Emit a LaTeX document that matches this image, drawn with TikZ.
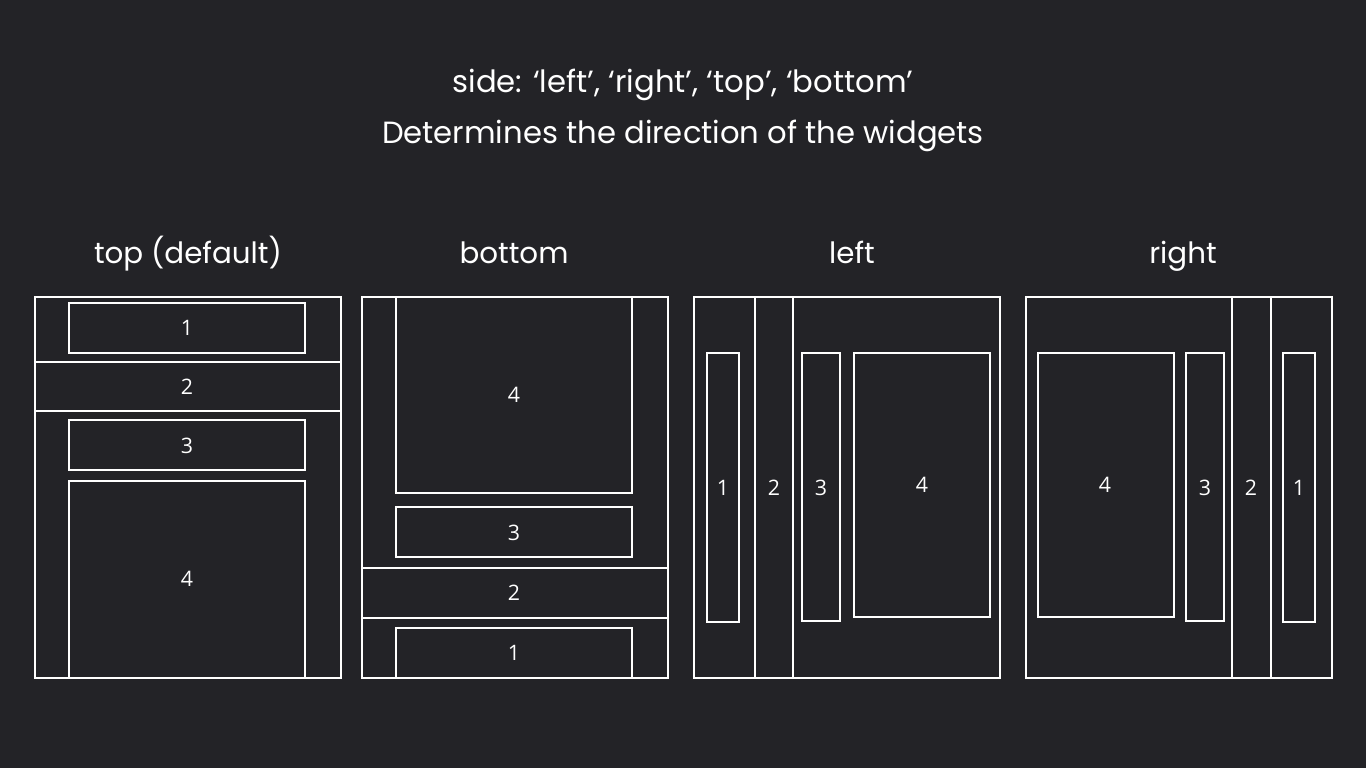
\documentclass[tikz,border=0pt]{standalone}
\usepackage{fontspec}
\setmainfont{Poppins}
\newfontfamily\digitfont{Open Sans}
\definecolor{bg}{HTML}{232327}
\begin{document}
\begin{tikzpicture}[x=0.75pt,y=-0.75pt,
  wbox/.style={draw=white,line width=1.1pt},
  num/.style={text=white,font=\digitfont\fontsize{16}{16}\selectfont,inner sep=0pt},
  ttl/.style={text=white,font=\fontsize{23}{25}\selectfont,inner sep=0pt,anchor=base},
  hdr/.style={text=white,font=\fontsize{22}{24}\selectfont,inner sep=0pt,anchor=base}]
\fill[bg] (0,0) rectangle (1366,768);
\useasboundingbox (0,0) rectangle (1366,768);
\node[ttl] (t1) at (683,92) {side: ‘left’, ‘right’, ‘top’, ‘bottom’};
\node[ttl] (t2) at (683,143) {Determines the direction of the widgets};
\node[hdr] (h1) at (188,263) {top (default)};
\node[hdr] (h2) at (514,263) {bottom};
\node[hdr] (h3) at (852,263) {left};
\node[hdr] (h4) at (1183,263) {right};
% panel top
\draw[wbox] (35,297) rectangle (341,678);
\draw[wbox] (69,303) rectangle (305,353);
\draw[wbox] (35,362) rectangle (341,411);
\draw[wbox] (69,420) rectangle (305,470);
\draw[wbox] (69,481) rectangle (305,678);
\node[num] (a1) at (187,328) {1};
\node[num] (a2) at (187,387) {2};
\node[num] (a3) at (187,446) {3};
\node[num] (a4) at (187,579) {4};
% panel bottom
\draw[wbox] (362,297) rectangle (668,678);
\draw[wbox] (396,297) rectangle (632,493);
\draw[wbox] (396,507) rectangle (632,557);
\draw[wbox] (362,568) rectangle (668,618);
\draw[wbox] (396,628) rectangle (632,678);
\node[num] (b4) at (514,395) {4};
\node[num] (b3) at (514,533) {3};
\node[num] (b2) at (514,593) {2};
\node[num] (b1) at (514,653) {1};
% panel left
\draw[wbox] (694,297) rectangle (1000,678);
\draw[wbox] (707,353) rectangle (739,622);
\draw[wbox] (755,297) rectangle (793,678);
\draw[wbox] (802,353) rectangle (840,621);
\draw[wbox] (854,353) rectangle (990,617);
\node[num] (c1) at (723,488) {1};
\node[num] (c2) at (774,488) {2};
\node[num] (c3) at (821,488) {3};
\node[num] (c4) at (922,485) {4};
% panel right
\draw[wbox] (1026,297) rectangle (1332,678);
\draw[wbox] (1038,353) rectangle (1174,617);
\draw[wbox] (1186,353) rectangle (1224,621);
\draw[wbox] (1232,297) rectangle (1271,678);
\draw[wbox] (1283,353) rectangle (1315,622);
\node[num] (d4) at (1105,485) {4};
\node[num] (d3) at (1205,488) {3};
\node[num] (d2) at (1251,488) {2};
\node[num] (d1) at (1299,488) {1};
\end{tikzpicture}
\end{document}
